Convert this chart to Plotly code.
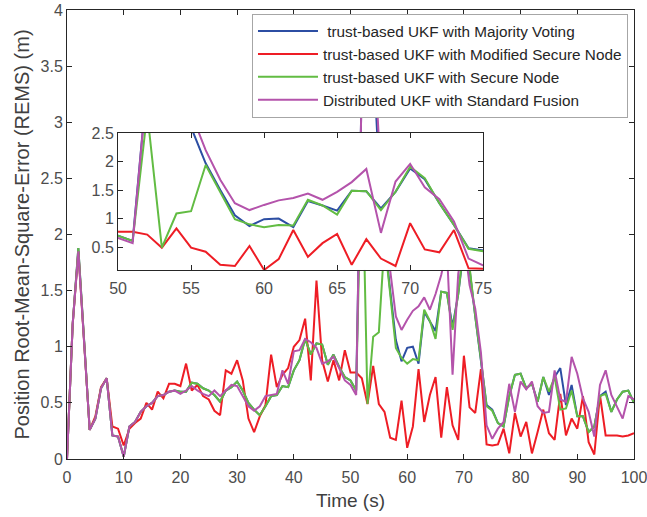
import plotly.graph_objects as go

t = list(range(0, 101))

green = [0.0, 1.2, 1.88, 1.05, 0.26, 0.36, 0.63, 0.72, 0.21, 0.20,
         0.02, 0.29, 0.33, 0.42, 0.47, 0.50, 0.56, 0.57, 0.60, 0.61,
         0.60, 0.60, 0.68, 0.67, 0.63, 0.61, 0.57, 0.51, 0.61, 0.64,
         0.69, 0.61, 0.50, 0.44, 0.39, 0.47, 0.56, 0.57, 0.65, 0.64,
         0.79, 0.88, 1.07, 0.93, 1.03, 1.02, 0.84, 0.93, 0.82, 0.73,
         0.70, 0.61, 2.85, 0.49, 1.09, 1.13, 1.94, 1.47, 0.99, 0.90,
         0.85, 0.89, 0.88, 1.33, 1.23, 1.07, 1.49, 1.48, 1.15, 1.47,
         1.91, 1.71, 1.27, 0.89, 0.47, 0.43, 0.32, 0.29, 0.56, 0.75,
         0.76, 0.63, 0.67, 0.51, 0.73, 0.60, 0.73, 0.44, 0.45, 0.61,
         0.38, 0.38, 0.24, 0.29, 0.56, 0.58, 0.42, 0.53, 0.60, 0.61,
         0.50]

blue = [0.0, 1.2, 1.88, 1.05, 0.26, 0.36, 0.63, 0.72, 0.21, 0.20,
        0.02, 0.29, 0.33, 0.42, 0.47, 0.50, 0.56, 0.57, 0.60, 0.61,
        0.60, 0.60, 0.68, 0.67, 0.63, 0.61, 0.57, 0.51, 0.61, 0.64,
        0.69, 0.61, 0.50, 0.44, 0.39, 0.47, 0.56, 0.57, 0.65, 0.64,
        0.79, 0.88, 1.07, 0.93, 1.03, 1.02, 0.84, 0.93, 0.82, 0.73,
        0.70, 0.61, 3.40, 3.70, 3.60, 2.60, 1.97, 1.50, 1.06, 0.87,
        0.99, 1.00, 0.85, 1.31, 1.23, 1.14, 1.49, 1.48, 1.18, 1.47,
        1.88, 1.69, 1.27, 0.89, 0.48, 0.44, 0.32, 0.29, 0.56, 0.75,
        0.76, 0.63, 0.67, 0.51, 0.73, 0.57, 0.73, 0.81, 0.48, 0.66,
        0.38, 0.38, 0.24, 0.29, 0.56, 0.60, 0.42, 0.53, 0.60, 0.61,
        0.50]

purple = [0.0, 1.2, 1.85, 1.05, 0.26, 0.36, 0.63, 0.72, 0.21, 0.20,
          0.02, 0.29, 0.33, 0.42, 0.47, 0.50, 0.56, 0.57, 0.60, 0.61,
          0.58, 0.61, 0.65, 0.61, 0.58, 0.56, 0.61, 0.56, 0.61, 0.66,
          0.65, 0.56, 0.47, 0.43, 0.47, 0.56, 0.57, 0.58, 0.79, 0.67,
          0.96, 0.97, 1.07, 1.04, 0.99, 0.85, 0.87, 0.91, 0.81, 0.70,
          0.66, 0.57, 3.40, 3.80, 3.80, 2.85, 2.20, 1.68, 1.27, 1.15,
          1.24, 1.32, 1.36, 1.44, 1.33, 1.47, 1.64, 1.87, 0.75, 1.65,
          1.96, 1.55, 1.34, 0.95, 0.30, 0.18, 0.27, 0.33, 0.67, 0.42,
          0.69, 0.62, 0.69, 0.47, 0.41, 0.42, 0.79, 0.53, 0.51, 0.91,
          0.76, 0.54, 0.42, 0.20, 0.66, 0.79, 0.57, 0.47, 0.36, 0.56,
          0.53]

red = [0.0, 1.2, 1.85, 1.05, 0.26, 0.38, 0.64, 0.72, 0.29, 0.27,
       0.12, 0.27, 0.32, 0.36, 0.50, 0.44, 0.60, 0.54, 0.67, 0.67,
       0.65, 0.85, 0.61, 0.66, 0.56, 0.53, 0.43, 0.39, 0.79, 0.76,
       0.88, 0.70, 0.36, 0.24, 0.38, 0.48, 0.93, 0.64, 0.75, 0.81,
       1.00, 1.06, 1.25, 0.70, 1.59, 0.88, 0.69, 0.88, 0.70, 0.97,
       0.77, 0.77, 0.72, 0.49, 0.83, 0.49, 0.42, 0.19, 0.17, 0.52,
       0.10, 0.29, 0.80, 0.33, 0.57, 0.73, 0.19, 0.64, 0.30, 0.17,
       0.92, 0.46, 0.41, 0.80, 0.13, 0.12, 0.13, 0.27, 0.05, 0.41,
       0.20, 0.33, 0.05, 0.24, 0.44, 0.23, 0.17, 0.58, 0.21, 0.36,
       0.27, 0.56, 0.15, 0.04, 0.57, 0.21, 0.21, 0.21, 0.20, 0.21,
       0.23]

names = [" trust-based UKF with Majority Voting",
         "trust-based UKF with Modified Secure Node",
         "trust-based UKF with Secure Node",
         "Distributed UKF with Standard Fusion"]
series = [blue, red, green, purple]
colors = ["#2C4EA3", "#EE1D25", "#62BC43", "#B453AB"]

x_ticks = [0, 10, 20, 30, 40, 50, 60, 70, 80, 90, 100]
y_ticks = [0, 0.5, 1, 1.5, 2, 2.5, 3, 3.5, 4]
y_tick_text = ["0", "0.5", "1", "1.5", "2", "2.5", "3", "3.5", "4"]
inset_x_ticks = [50, 55, 60, 65, 70, 75]
inset_y_ticks = [0.5, 1, 1.5, 2, 2.5]
inset_y_text = ["0.5", "1", "1.5", "2", "2.5"]

FONT = "Liberation Sans, Arial, Helvetica"

fig = go.Figure()
for s, c, n in zip(series, colors, names):
    fig.add_trace(go.Scatter(x=t, y=s, mode="lines", name=n,
                             line=dict(color=c, width=2),
                             xaxis="x", yaxis="y"))
for s, c in zip(series, colors):
    fig.add_trace(go.Scatter(x=t, y=s, mode="lines", showlegend=False,
                             line=dict(color=c, width=2),
                             xaxis="x2", yaxis="y2"))

axis_common = dict(showline=True, linecolor="#262626", linewidth=1,
                   mirror="ticks", ticks="inside", ticklen=5,
                   tickcolor="#262626", showgrid=False, zeroline=False,
                   automargin=False, ticklabeloverflow="allow",
                   tickfont=dict(family=FONT, size=16, color="#4D4D4D"))

fig.update_layout(
    width=647, height=517,
    margin=dict(l=67, r=13, t=10, b=58),
    paper_bgcolor="white", plot_bgcolor="white",
    font=dict(family=FONT, color="#404040"),
    xaxis=dict(range=[0, 100], tickvals=x_ticks, domain=[0, 1],
               ticklabelstandoff=4,
               title=dict(text="Time (s)", font=dict(size=19, color="#404040"),
                          standoff=8),
               **axis_common),
    yaxis=dict(range=[0, 4], tickvals=y_ticks, ticktext=y_tick_text,
               domain=[0, 1],
               title=dict(text="Position Root-Mean-Square-Error (REMS) (m)",
                          font=dict(size=20, color="#404040"), standoff=5),
               **axis_common),
    xaxis2=dict(range=[50, 75], tickvals=inset_x_ticks, domain=[0.09, 0.734],
                anchor="y2", ticklabelstandoff=4, **axis_common),
    yaxis2=dict(range=[0.1, 2.5], tickvals=inset_y_ticks, ticktext=inset_y_text,
                domain=[0.421, 0.726], anchor="x2", **axis_common),
    legend=dict(x=0.9894, y=0.992, xanchor="right", yanchor="top",
                bgcolor="white", bordercolor="#A6A6A6", borderwidth=1,
                font=dict(family=FONT, size=15.3, color="#262626"),
                itemwidth=60),
    showlegend=True,
)

fig.write_html("out.html")
